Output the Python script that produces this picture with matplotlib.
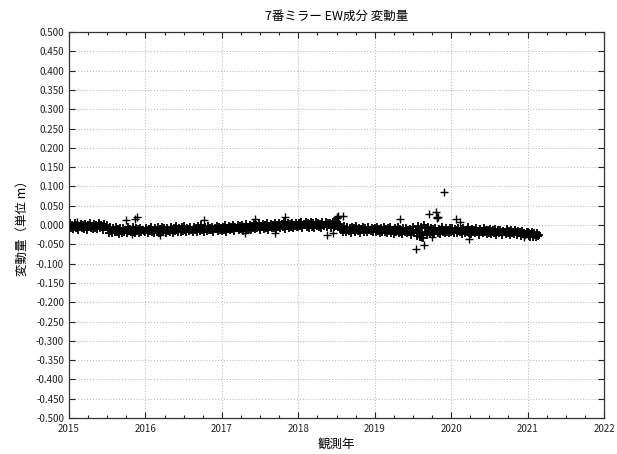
import numpy as np
import matplotlib
matplotlib.use("Agg")
import matplotlib.pyplot as plt
from matplotlib.ticker import MultipleLocator, FormatStrFormatter

plt.rcParams['font.family'] = ['Noto Sans CJK JP', 'DejaVu Sans']
plt.rcParams['axes.unicode_minus'] = False

title = "7番ミラー EW成分 変動量"
xlabel = "観測年"
ylabel = "変動量（単位 m）"

# values in millimetres, per year (regularly spaced in time)
v2015 = [-3,4,-9,1,-11,-2,5,-7,0,-12,-4,3,-8,-1,-10,2,-6,-13,1,-5,4,-9,-2,-11,3,-7,0,-10,-3,5,-8,-1,-12,2,-6,-4,1,
         -10,-20,-6,-16,-22,-8,-14,-19,-5,-17,-11,-23,-9,-15,-20,-7,-18,-12,-21,-6,-16,-10,-19,-13,-4,-17,-22,-9,-15,-11,-20,-7,-18,-14,-12,-16]
v2016 = [-18,-7,-21,-10,-15,-5,-19,-12,-22,-8,-14,-17,-6,-20,-11,-16,-4,-19,-9,-13,-21,-7,-15,-18,-5,-12,-20,-9,-16,-3,-14,-19,-8,-11,-17,-6,
         -15,-2,-13,-18,-7,-10,-16,-4,-12,-19,-6,-14,-9,-17,-3,-11,-15,-1,-13,-8,-18,-5,-10,-16,-2,-12,-7,-14,-4,-17,-9,-11,-3,-15,-6,-13,-8]
v2017 = [-15,-4,-12,-1,-17,-7,-10,-2,-14,-5,-11,0,-16,-6,-9,-1,-13,-3,-11,1,-15,-5,-8,2,-12,-4,-10,0,-14,-2,-7,3,-11,-1,-9,4,-13,
         -3,-6,2,-10,0,-8,5,-12,-2,-5,3,-9,1,-7,6,-11,-1,-4,4,-8,2,-6,7,-10,0,-3,5,-7,3,-5,6,-9,1,-2,4,-6]
v2018 = [-6,6,-3,8,-8,3,-1,9,-5,5,-9,2,7,-4,4,-7,1,8,-2,6,-6,3,-8,7,0,-3,9,-5,4,-1,6,-7,2,8,-4,5,-2,7,-6,3,
         -4,-14,-7,-17,-2,-12,-19,-6,-15,-9,-20,-5,-13,-8,-18,-3,-11,-16,-7,-21,-10,-14,-4,-17,-9,-13,-19,-6,-12,-15,-8,-18,-11]
v2019 = [-8,-18,-5,-15,-11,-21,-7,-17,-13,-4,-19,-10,-22,-9,-16,-6,-20,-12,-23,-8,-18,-14,-5,-21,-11,-17,-24,-9,-15,-19,-7,-22,-13,-18,-10,-25,-14,
         -6,-20,-12,-28,-2,-17,-30,-5,-22,-33,0,-19,-9,-26,-4,-15,-21,-8,-18,-11,-23,-7,-16,-20,-10,-24,-13,-6,-19,-15,-22,-9,-17,-12,-21,-8]
v2020 = [-19,-8,-16,-22,-10,-13,-20,-7,-17,-11,-23,-9,-15,-21,-12,-18,-6,-20,-14,-24,-10,-17,-13,-22,-8,-19,-15,-25,-11,-16,-21,-9,-18,-14,-23,-12,-20,
         -10,-24,-16,-13,-21,-11,-25,-17,-14,-22,-12,-19,-26,-15,-18,-23,-11,-20,-16,-27,-13,-21,-17,-24,-14,-19,-26,-15,-22,-18,-28,-16,-23,-20,-25,-17]
v2021 = [-18,-28,-21,-31,-24,-19,-30,-22,-27,-32,-20,-29,-25]
end2021 = 2021.15

# isolated points (year, metres)
out_x = [2015.10, 2015.75, 2015.86, 2015.89, 2015.82, 2016.19, 2016.76, 2017.30, 2017.43, 2017.70, 2017.83,
         2018.37, 2018.46, 2018.50, 2018.51, 2018.52, 2018.59, 2019.33, 2019.54, 2019.65, 2019.71, 2019.80,
         2019.81, 2019.82, 2019.83, 2019.91, 2020.07, 2020.11, 2020.24, 2019.60, 2019.75, 2020.95]
out_y = [0.009, 0.013, 0.015, 0.020, -0.024, -0.026, 0.013, -0.022, 0.016, -0.022, 0.022,
         -0.026, -0.020, 0.021, 0.019, 0.023, 0.023, 0.015, -0.061, -0.051, 0.028, 0.033,
         0.020, 0.017, 0.022, 0.086, 0.016, 0.007, -0.036, -0.032, -0.030, -0.030]

xs, ys = [], []
for yr, vals in [(2015, v2015), (2016, v2016), (2017, v2017), (2018, v2018), (2019, v2019), (2020, v2020)]:
    xs.extend(np.linspace(yr, yr + 1, len(vals), endpoint=False))
    ys.extend(np.array(vals) / 1000.0)
xs.extend(np.linspace(2021, end2021, len(v2021)))
ys.extend(np.array(v2021) / 1000.0)

fig = plt.figure(figsize=(6.17, 4.54), dpi=100)
ax = fig.add_axes([69/617, 1 - 418/454, (604-69)/617, (418-32)/454])

ax.plot(xs, ys, '+', color='black', markersize=6, markeredgewidth=1.3, linestyle='none')
ax.plot(out_x, out_y, '+', color='black', markersize=6, markeredgewidth=1.0, linestyle='none')

ax.set_xlim(2015, 2022)
ax.set_ylim(-0.5, 0.5)
ax.xaxis.set_major_locator(MultipleLocator(1))
ax.xaxis.set_minor_locator(MultipleLocator(0.25))
ax.yaxis.set_major_locator(MultipleLocator(0.05))
ax.yaxis.set_major_formatter(FormatStrFormatter('%.3f'))
ax.xaxis.set_major_formatter(FormatStrFormatter('%d'))

ax.tick_params(which='both', direction='in', top=True, right=True, labelsize=7, colors='#222222')
ax.tick_params(which='major', length=4, width=0.8)
ax.tick_params(which='minor', length=2.5, width=0.8)
ax.tick_params(axis='x', which='major', pad=4)
ax.grid(True, which='major', linestyle=(0, (1, 2)), color='#b0b0b0', linewidth=0.7)
for s in ax.spines.values():
    s.set_color('#333333')
    s.set_linewidth(0.9)

ax.set_title(title, fontsize=9, pad=9)
ax.set_xlabel(xlabel, fontsize=9, labelpad=3)
ax.set_ylabel(ylabel, fontsize=9, labelpad=5)

fig.savefig('out.png', dpi=100)
